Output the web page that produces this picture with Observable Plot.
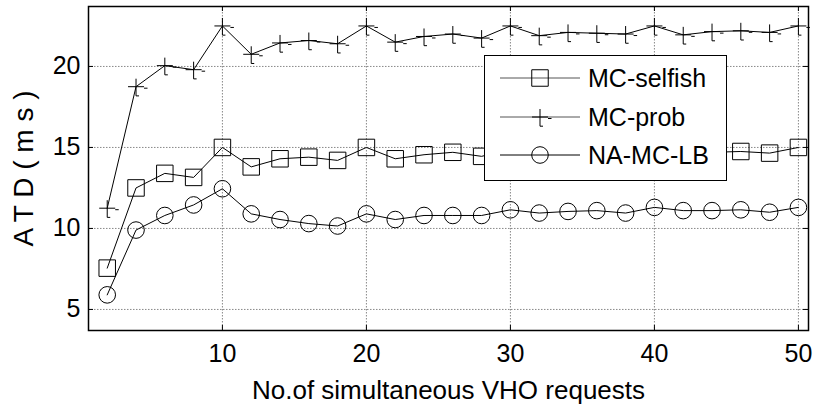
<!DOCTYPE html>
<html>
<head>
<meta charset="utf-8">
<script src="https://cdn.jsdelivr.net/npm/d3@7"></script>
<script src="https://cdn.jsdelivr.net/npm/@observablehq/plot@0.6"></script>
<style>
  html, body { margin: 0; padding: 0; background: #fff; }
  #wrap { position: relative; width: 814px; height: 406px; font-family: "Liberation Sans", Arial, sans-serif; }
  #legend { position: absolute; left: 484px; top: 55px; width: 241px; height: 124px;
            border: 1.5px solid #000; background: #fff; }
</style>
</head>
<body>
<div id="wrap"></div>
<script>
// Number of simultaneous VHO requests (x axis)
const requests = [2, 4, 6, 8, 10, 12, 14, 16, 18, 20, 22, 24, 26, 28, 30, 32, 34, 36, 38, 40, 42, 44, 46, 48, 50];

// Average transfer delay (ms) per scheme
const mcSelfish = [7.55, 12.5, 13.4, 13.15, 15.0, 13.8, 14.3, 14.4, 14.2, 15.0, 14.3, 14.55, 14.7, 14.45, 14.9, 14.6, 14.6, 14.7, 14.6, 15.0, 14.7, 14.7, 14.75, 14.65, 15.0];
const mcProb    = [11.25, 18.75, 20.05, 19.8, 22.5, 20.75, 21.45, 21.6, 21.4, 22.5, 21.5, 21.85, 22.0, 21.75, 22.5, 21.9, 22.1, 22.05, 22.0, 22.5, 21.95, 22.15, 22.2, 22.1, 22.5];
const naMcLb    = [5.9, 9.9, 10.8, 11.45, 12.45, 10.9, 10.55, 10.3, 10.15, 10.9, 10.55, 10.8, 10.8, 10.8, 11.15, 10.95, 11.05, 11.1, 10.95, 11.3, 11.1, 11.1, 11.15, 11.0, 11.3];

const seriesNames = ["MC-selfish", "MC-prob", "NA-MC-LB"];
const xTicks = [10, 20, 30, 40, 50];
const yTicks = [5, 10, 15, 20];

const font = '"Liberation Sans", Arial, sans-serif';

// Plus marker with the small offset dashes of the printed figure
const plusMark = {
  draw(ctx, size) {
    const r = Math.sqrt(size / Math.PI);
    ctx.moveTo(-r, 0); ctx.lineTo(r, 0);
    ctx.moveTo(0, -r); ctx.lineTo(0, r * 1.15);
    ctx.moveTo(r, 1.5); ctx.lineTo(r + 3.5, 1.5);
    ctx.moveTo(0, r * 1.15); ctx.lineTo(3, r * 1.15);
  }
};

const symbols = { "MC-selfish": "square", "MC-prob": plusMark, "NA-MC-LB": "circle" };
const radii = { "MC-selfish": 9.3, "MC-prob": 8, "NA-MC-LB": 8.3 };
const values = { "MC-selfish": mcSelfish, "MC-prob": mcProb, "NA-MC-LB": naMcLb };

const rows = seriesNames.flatMap(s => requests.map((x, i) => ({ series: s, x, y: values[s][i] })));

const W = 814, H = 406, mL = 88, mR = 6, mT = 6, mB = 76;
const frameW = W - mL - mR, frameH = H - mT - mB;
const tickLen = 5;

const chart = Plot.plot({
  width: W, height: H,
  marginLeft: mL, marginRight: mR, marginTop: mT, marginBottom: mB,
  style: { fontFamily: font, color: "#000", background: "#fff", overflow: "visible" },
  x: { domain: [0.7, 50.7] },
  y: { domain: [3.7, 23.7] },
  marks: [
    Plot.gridX(xTicks, { stroke: "#888", strokeOpacity: 1, strokeDasharray: "1.5,1.5" }),
    Plot.gridY(yTicks, { stroke: "#888", strokeOpacity: 1, strokeDasharray: "1.5,1.5" }),
    // inward tick marks on all four sides
    Plot.ruleX(xTicks, { x: d => d, stroke: "#000", insetTop: frameH - tickLen }),
    Plot.ruleX(xTicks, { x: d => d, stroke: "#000", insetBottom: frameH - tickLen }),
    Plot.ruleY(yTicks, { y: d => d, stroke: "#000", insetRight: frameW - tickLen }),
    Plot.ruleY(yTicks, { y: d => d, stroke: "#000", insetLeft: frameW - tickLen }),
    Plot.axisX(xTicks, { tickSize: 0, tickPadding: 14, fontSize: 25, label: null }),
    Plot.axisY(yTicks, { tickSize: 0, tickPadding: 8, fontSize: 25, label: null }),
    Plot.text(["No.of simultaneous VHO requests"], {
      frameAnchor: "bottom", dy: 68, fontSize: 26, lineAnchor: "bottom",
      textAnchor: "middle", fill: "#000"
    }),
    Plot.text(["A T D ( m s )"], {
      frameAnchor: "left", dx: -64, rotate: -90, fontSize: 28,
      textAnchor: "middle", fill: "#000"
    }),
    Plot.line(rows, { x: "x", y: "y", z: "series", stroke: "#000", strokeWidth: 1 }),
    ...seriesNames.map(s => Plot.dot(rows.filter(d => d.series === s), {
      x: "x", y: "y", symbol: () => symbols[s], r: radii[s],
      fill: "none", stroke: "#000", strokeWidth: 1
    })),
    Plot.frame({ stroke: "#000", strokeWidth: 1.5 })
  ]
});

const wrap = document.getElementById("wrap");
wrap.appendChild(chart);

// Legend box drawn over the plot area
const legend = document.createElement("div");
legend.id = "legend";
wrap.appendChild(legend);
const lsvg = d3.select(legend).append("svg").attr("width", 241).attr("height", 124)
  .style("display", "block");
const rowY = [22, 61, 99];
seriesNames.forEach((s, i) => {
  const g = lsvg.append("g").attr("transform", `translate(0,${rowY[i]})`);
  g.append("line").attr("x1", 15).attr("x2", 95).attr("y1", 0).attr("y2", 0)
    .attr("stroke", i < 2 ? "#555" : "#000").attr("stroke-width", 1);
  const r = radii[s];
  const sym = symbols[s];
  const type = sym === "square" ? d3.symbolSquare : sym === "circle" ? d3.symbolCircle : sym;
  g.append("path").attr("transform", "translate(55,0)")
    .attr("d", d3.symbol(type, r * r * Math.PI)())
    .attr("fill", "none").attr("stroke", "#000").attr("stroke-width", 1);
  g.append("text").attr("x", 103).attr("y", 9).attr("font-size", 25)
    .attr("font-family", font).attr("fill", "#000").text(s);
});
</script>
</body>
</html>
